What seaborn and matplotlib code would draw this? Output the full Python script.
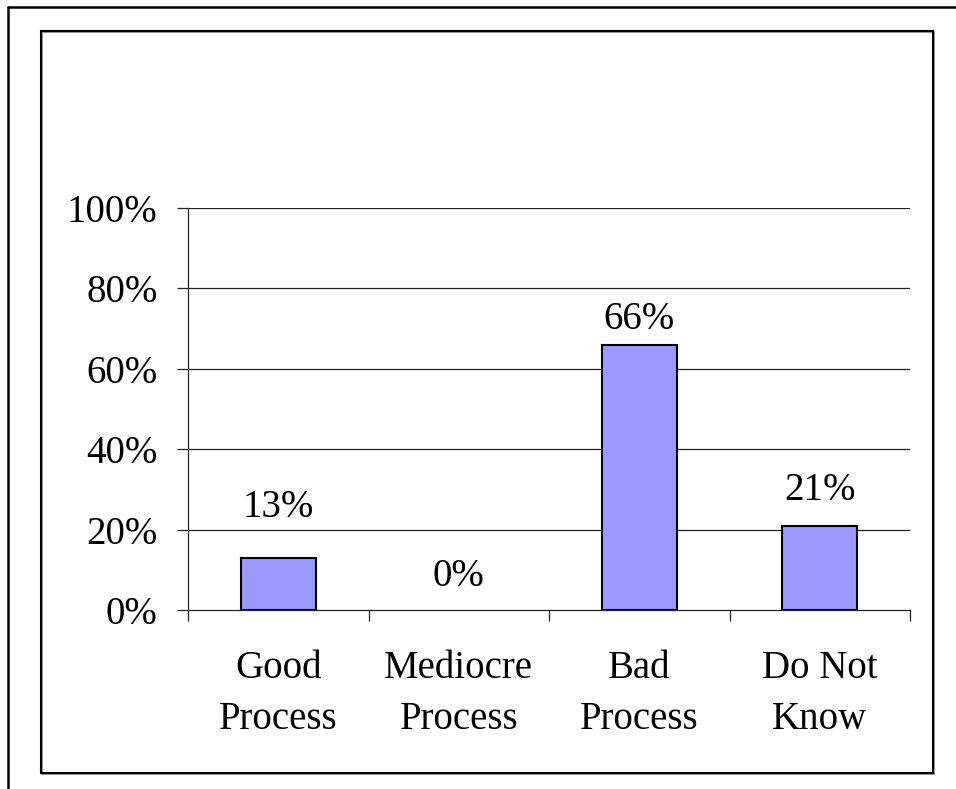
import matplotlib
matplotlib.use("Agg")
import matplotlib.pyplot as plt
from matplotlib.lines import Line2D
from matplotlib.patches import Rectangle
import seaborn as sns
import pandas as pd

# Survey answers and their shares (percent)
categories = ["Good\nProcess", "Mediocre\nProcess", "Bad\nProcess", "Do Not\nKnow"]
shares = [13, 0, 66, 21]
y_ticks = [0, 20, 40, 60, 80, 100]
y_tick_labels = ["0%", "20%", "40%", "60%", "80%", "100%"]
# vertical offset of each value label above its bar, in points
label_offsets = [23, 11, 4.5, 12]

sns.set_style("white")
plt.rcParams["font.family"] = ["Liberation Serif", "DejaVu Serif"]
plt.rcParams["text.color"] = "black"
plt.rcParams["xtick.color"] = "black"
plt.rcParams["ytick.color"] = "black"
plt.rcParams["xtick.labelcolor"] = "black"
plt.rcParams["ytick.labelcolor"] = "black"

FS = 28

df = pd.DataFrame({"answer": categories, "share": shares})

fig = plt.figure(figsize=(9.56, 7.89), dpi=100)
ax = fig.add_axes([188 / 956, 1 - 610 / 789, (910 - 188) / 956, (610 - 208) / 789])

sns.barplot(data=df, x="answer", y="share", color="#9999FF", saturation=1,
            edgecolor="black", linewidth=1.5, width=0.415, ax=ax, zorder=3)

# a zero-height bar shows nothing
for patch, v in zip(ax.patches, shares):
    if v == 0:
        patch.set_linewidth(0)

ax.set_ylim(0, 100)
ax.set_xlim(-0.5, len(categories) - 0.5)
ax.set_yticks(y_ticks)
ax.set_yticklabels(y_tick_labels, fontsize=FS)
ax.set_xlabel("")
ax.set_ylabel("")

# horizontal gridlines
for t in y_ticks[1:]:
    ax.axhline(t, color="#222222", lw=0.9, zorder=1)

# category labels centred, ticks at category boundaries
ax.set_xticks(range(len(categories)))
ax.set_xticklabels(categories, fontsize=FS, linespacing=1.5)
ax.set_xticks([i - 0.5 for i in range(len(categories) + 1)], minor=True)
ax.tick_params(axis="x", which="major", length=0, pad=29, bottom=True)
ax.tick_params(axis="x", which="minor", length=8, width=0.9, color="#222222",
               direction="out", bottom=True)
ax.tick_params(axis="y", which="major", length=8, width=0.9, color="#222222",
               direction="out", pad=14, left=True)

for side in ["top", "right"]:
    ax.spines[side].set_visible(False)
for side in ["left", "bottom"]:
    ax.spines[side].set_color("#222222")
    ax.spines[side].set_linewidth(0.9)

# value labels above bars
for i, (v, off) in enumerate(zip(shares, label_offsets)):
    ax.annotate(f"{v}%", xy=(i, v), xytext=(0, off), textcoords="offset points",
                ha="center", va="bottom", fontsize=FS, color="black")

# inner chart frame with slight shadow
fig.patches.append(Rectangle((42 / 956, 1 - 774 / 789), (934 - 42) / 956, (774 - 32) / 789,
                             transform=fig.transFigure, fill=False, ec="#999999", lw=1.5))
fig.patches.append(Rectangle((41 / 956, 1 - 773 / 789), (933 - 41) / 956, (773 - 31) / 789,
                             transform=fig.transFigure, fill=False, ec="black", lw=1.5))

# outer frame running past the right and bottom edges
fig.lines.append(Line2D([8 / 956, 1.0], [1 - 7 / 789, 1 - 7 / 789],
                        transform=fig.transFigure, color="black", lw=1.8))
fig.lines.append(Line2D([8 / 956, 8 / 956], [0.0, 1 - 7 / 789],
                        transform=fig.transFigure, color="black", lw=1.8))

fig.savefig("out.png", dpi=100)
